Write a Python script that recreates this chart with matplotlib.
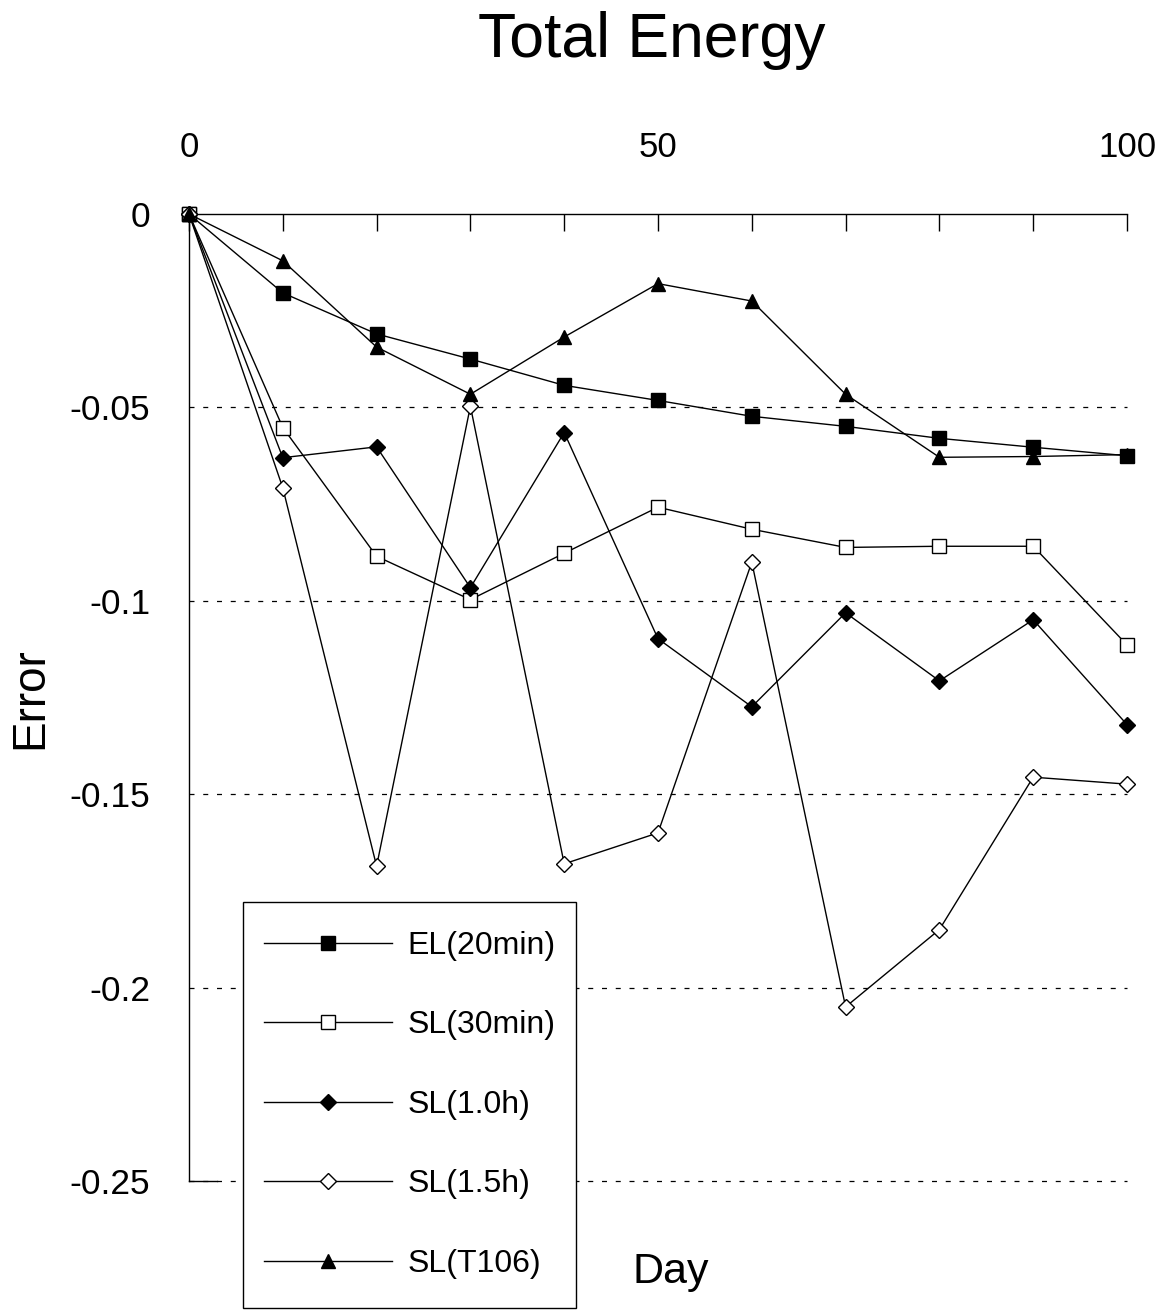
import matplotlib
matplotlib.use("Agg")
import matplotlib.pyplot as plt
from matplotlib.patches import Rectangle
from matplotlib.ticker import MultipleLocator, FixedLocator

plt.rcParams["font.family"] = ["Liberation Sans", "DejaVu Sans"]

days = [0, 10, 20, 30, 40, 50, 60, 70, 80, 90, 100]

el_20min = [0, -0.0204, -0.031, -0.0375, -0.0443, -0.0482, -0.0523, -0.0549, -0.058, -0.0603, -0.0625]
sl_30min = [0, -0.0552, -0.0885, -0.0997, -0.0877, -0.0758, -0.0815, -0.0862, -0.0859, -0.0859, -0.1114]
sl_10h = [0, -0.0630, -0.0602, -0.0966, -0.0565, -0.1098, -0.1274, -0.1031, -0.1207, -0.1049, -0.132]
sl_15h = [0, -0.0708, -0.1686, -0.0497, -0.168, -0.160, -0.0900, -0.205, -0.185, -0.1456, -0.1474]
sl_t106 = [0, -0.0121, -0.0344, -0.0466, -0.0318, -0.018, -0.0225, -0.0466, -0.0629, -0.0627, -0.0622]

labels = ["EL(20min)", "SL(30min)", "SL(1.0h)", "SL(1.5h)", "SL(T106)"]
grid_levels = [-0.05, -0.1, -0.15, -0.2, -0.25]

W, H = 1165, 1313
fig = plt.figure(figsize=(W / 100, H / 100), dpi=100)
ax = fig.add_axes([189 / W, 1 - 1181 / H, (1127 - 189) / W, (1181 - 214) / H])

ax.set_xlim(0, 100)
ax.set_ylim(-0.25, 0)

# dashed reference lines
for g in grid_levels:
    ax.axhline(g, color="black", lw=0.9, ls=(0, (4, 7)), zorder=1, clip_on=False)
# short solid foot at the bottom of the left axis line
ax.plot([0, 3], [-0.25, -0.25], color="black", lw=1.0, clip_on=False)

styles = [
    dict(marker="s", ms=10, mfc="black"),
    dict(marker="s", ms=10, mfc="white"),
    dict(marker="D", ms=8, mfc="black"),
    dict(marker="D", ms=8.5, mfc="white"),
    dict(marker="^", ms=10, mfc="black"),
]
series = [el_20min, sl_30min, sl_10h, sl_15h, sl_t106]
for ys, lab, st in zip(series, labels, styles):
    ax.plot(days, ys, color="black", lw=1.0, mec="black", mew=1.0,
            label=lab, clip_on=False, zorder=3, **st)

# spines: top axis line with inward ticks, left line only
ax.spines["bottom"].set_visible(False)
ax.spines["right"].set_visible(False)
ax.spines["top"].set_linewidth(1.0)
ax.spines["left"].set_linewidth(1.0)

ax.xaxis.tick_top()
ax.xaxis.set_major_locator(FixedLocator([0, 50, 100]))
ax.xaxis.set_minor_locator(MultipleLocator(10))
ax.tick_params(axis="x", which="both", direction="in", length=12, width=1.0,
               labelsize=25, pad=36)

ax.yaxis.set_major_locator(FixedLocator([0, -0.05, -0.1, -0.15, -0.2, -0.25]))
ax.set_yticklabels(["0", "-0.05", "-0.1", "-0.15", "-0.2", "-0.25"])
ax.tick_params(axis="y", length=0, labelsize=25.5, pad=28)

fig.text(652 / W, 1 - 41 / H, "Total Energy", fontsize=45, ha="center", va="center")
fig.text(671 / W, 1 - 1272 / H, "Day", fontsize=31, ha="center", va="center")
fig.text(30 / W, 1 - 698 / H, "Error", fontsize=33, rotation=90, ha="center", va="center")

# legend box drawn separately so its size is independent of the entry layout
box = Rectangle((243 / W, 1 - 1308 / H), (576 - 243) / W, (1308 - 902) / H,
                transform=fig.transFigure, facecolor="white", edgecolor="black",
                lw=1.0, zorder=4, clip_on=False)
ax.add_patch(box)

leg = ax.legend(loc="upper left", bbox_to_anchor=(243 / W, 1 - 910 / H),
                bbox_transform=fig.transFigure, borderaxespad=0, fontsize=23,
                handlelength=4.0, handletextpad=0.5, labelspacing=1.55,
                borderpad=0.65, frameon=False)
leg.set_zorder(5)

fig.savefig("out.png", dpi=100)
